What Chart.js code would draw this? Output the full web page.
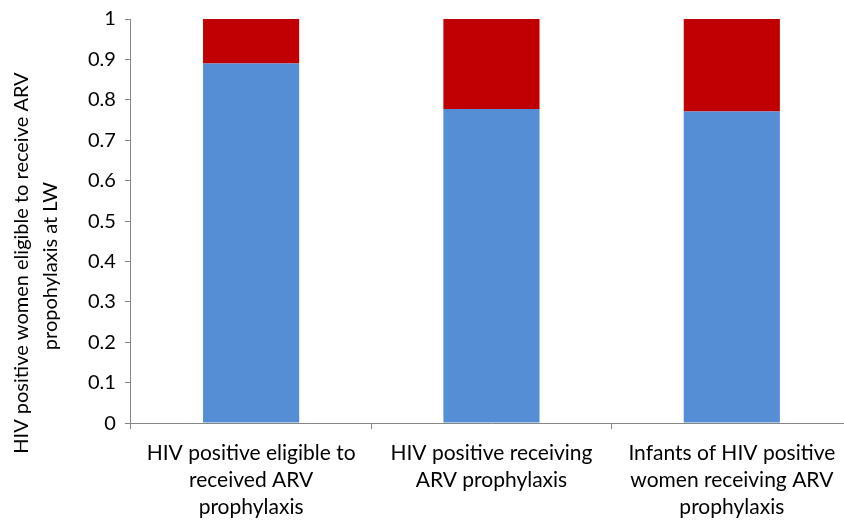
<!DOCTYPE html>
<html>
<head>
<meta charset="utf-8">
<script src="https://cdn.jsdelivr.net/npm/chart.js@4/dist/chart.umd.min.js"></script>
<style>
  html, body { margin: 0; padding: 0; background: #fff; overflow: hidden; }
  #wrap { width: 852px; height: 522px; }
</style>
</head>
<body>
<div id="wrap"><canvas id="myChart" width="852" height="522"></canvas></div>
<script>
// categorias e valores
const categories = [
    ['HIV positive eligible to', 'received ARV', 'prophylaxis'],
    ['HIV positive receiving', 'ARV prophylaxis'],
    ['Infants of HIV positive', 'women receiving ARV', 'prophylaxis']
];
const receivedValues = [0.89, 0.777, 0.771];
const notReceivedValues = [0.11, 0.223, 0.229];
const yTickLabels = ['0', '0.1', '0.2', '0.3', '0.4', '0.5', '0.6', '0.7', '0.8', '0.9', '1'];
const yTitle = ['HIV positive women eligible to receive ARV', 'propohylaxis at LW'];

// título do eixo Y desenhado à mão (centrado como no Excel, um pouco abaixo)
const yTitlePlugin = {
    id: 'yTitle',
    afterDraw(chart) {
        const c = chart.ctx;
        const area = chart.chartArea;
        const mid = (area.top + area.bottom) / 2;
        c.save();
        c.font = '20px Lato';
        c.fillStyle = '#000';
        c.textAlign = 'center';
        c.textBaseline = 'middle';
        c.rotate(-Math.PI / 2);
        c.fillText(yTitle[0], -(mid + 42), 22);
        c.fillText(yTitle[1], -(mid + 45), 51);
        c.restore();
    }
};

const ctx = document.getElementById('myChart').getContext('2d');
const myChart = new Chart(ctx, {
    type: 'bar',
    data: {
        labels: categories,
        datasets: [{
            label: 'Received',
            data: receivedValues,
            backgroundColor: '#558ED5'
        }, {
            label: 'Not received',
            data: notReceivedValues,
            backgroundColor: '#C00000'
        }]
    },
    options: {
        responsive: false,
        animation: false,
        layout: { padding: { top: 3, right: 0, left: 79, bottom: -9 } },
        datasets: { bar: { barPercentage: 0.8, categoryPercentage: 0.5 } },
        plugins: {
            legend: { display: false },
            tooltip: { enabled: false }
        },
        scales: {
            x: {
                stacked: true,
                grid: { display: true, drawOnChartArea: false, offset: true, tickLength: 6, color: '#868686' },
                border: { color: '#868686' },
                ticks: { color: '#000', font: { family: 'Lato', size: 21, lineHeight: 1.3 }, maxRotation: 0, padding: 10 }
            },
            y: {
                stacked: true,
                min: 0,
                max: 1,
                grid: { display: true, drawOnChartArea: false, tickLength: 6, color: '#868686' },
                border: { color: '#868686' },
                ticks: {
                    stepSize: 0.1,
                    color: '#000',
                    font: { family: 'Lato', size: 20, lineHeight: 1.0 },
                    padding: 9,
                    callback: (v, i) => yTickLabels[i]
                }
            }
        }
    },
    plugins: [yTitlePlugin]
});
</script>
</body>
</html>
